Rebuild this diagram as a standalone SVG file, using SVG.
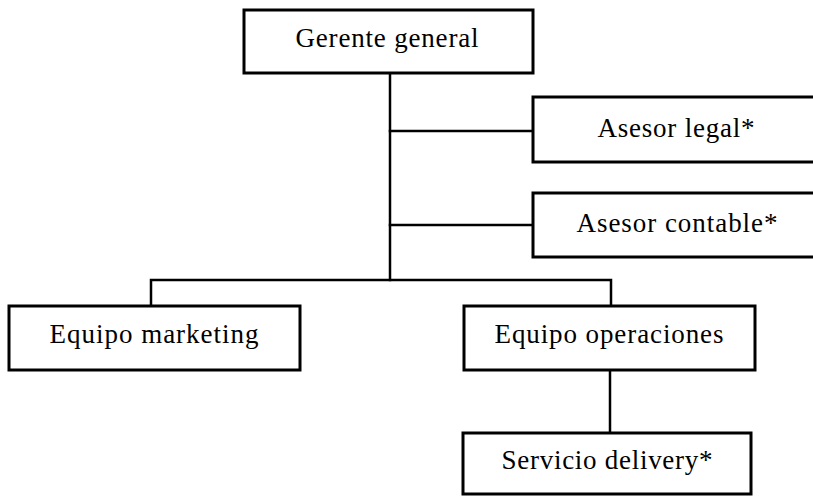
<svg xmlns="http://www.w3.org/2000/svg" width="813" height="496" viewBox="0 0 813 496">
  <style>
    .box { fill: #ffffff; stroke: #000000; stroke-width: 3; }
    .link { fill: none; stroke: #000000; stroke-width: 2.5; stroke-linecap: square; }
    .label { font-family: "Liberation Serif", "Times New Roman", serif; font-size: 27px; fill: #000000; text-anchor: middle; }
  </style>
  <rect x="0" y="0" width="813" height="496" fill="#ffffff"/>

  <!-- connectors -->
  <g id="connectors">
    <path class="link" d="M390 73 V280"/>
    <path class="link" d="M390 131 H533"/>
    <path class="link" d="M390 225 H533"/>
    <path class="link" d="M151 306 V280 H611 V306"/>
    <path class="link" d="M610 370 V433"/>
  </g>

  <g id="gerente-general">
    <rect class="box" x="244" y="10" width="289" height="63"/>
    <text class="label" x="387" y="47" textLength="183" lengthAdjust="spacing">Gerente general</text>
  </g>

  <g id="asesor-legal">
    <rect class="box" x="533" y="97" width="290" height="65"/>
    <text class="label" x="676" y="137" textLength="157" lengthAdjust="spacing">Asesor legal*</text>
  </g>

  <g id="asesor-contable">
    <rect class="box" x="533" y="193" width="290" height="64"/>
    <text class="label" x="677" y="232" textLength="201" lengthAdjust="spacing">Asesor contable*</text>
  </g>

  <g id="equipo-marketing">
    <rect class="box" x="9" y="306" width="291" height="64"/>
    <text class="label" x="154" y="343" textLength="209" lengthAdjust="spacing">Equipo marketing</text>
  </g>

  <g id="equipo-operaciones">
    <rect class="box" x="464" y="306" width="291" height="64"/>
    <text class="label" x="609" y="343" textLength="229" lengthAdjust="spacing">Equipo operaciones</text>
  </g>

  <g id="servicio-delivery">
    <rect class="box" x="463" y="433" width="288" height="61"/>
    <text class="label" x="607" y="469" textLength="211" lengthAdjust="spacing">Servicio delivery*</text>
  </g>
</svg>
